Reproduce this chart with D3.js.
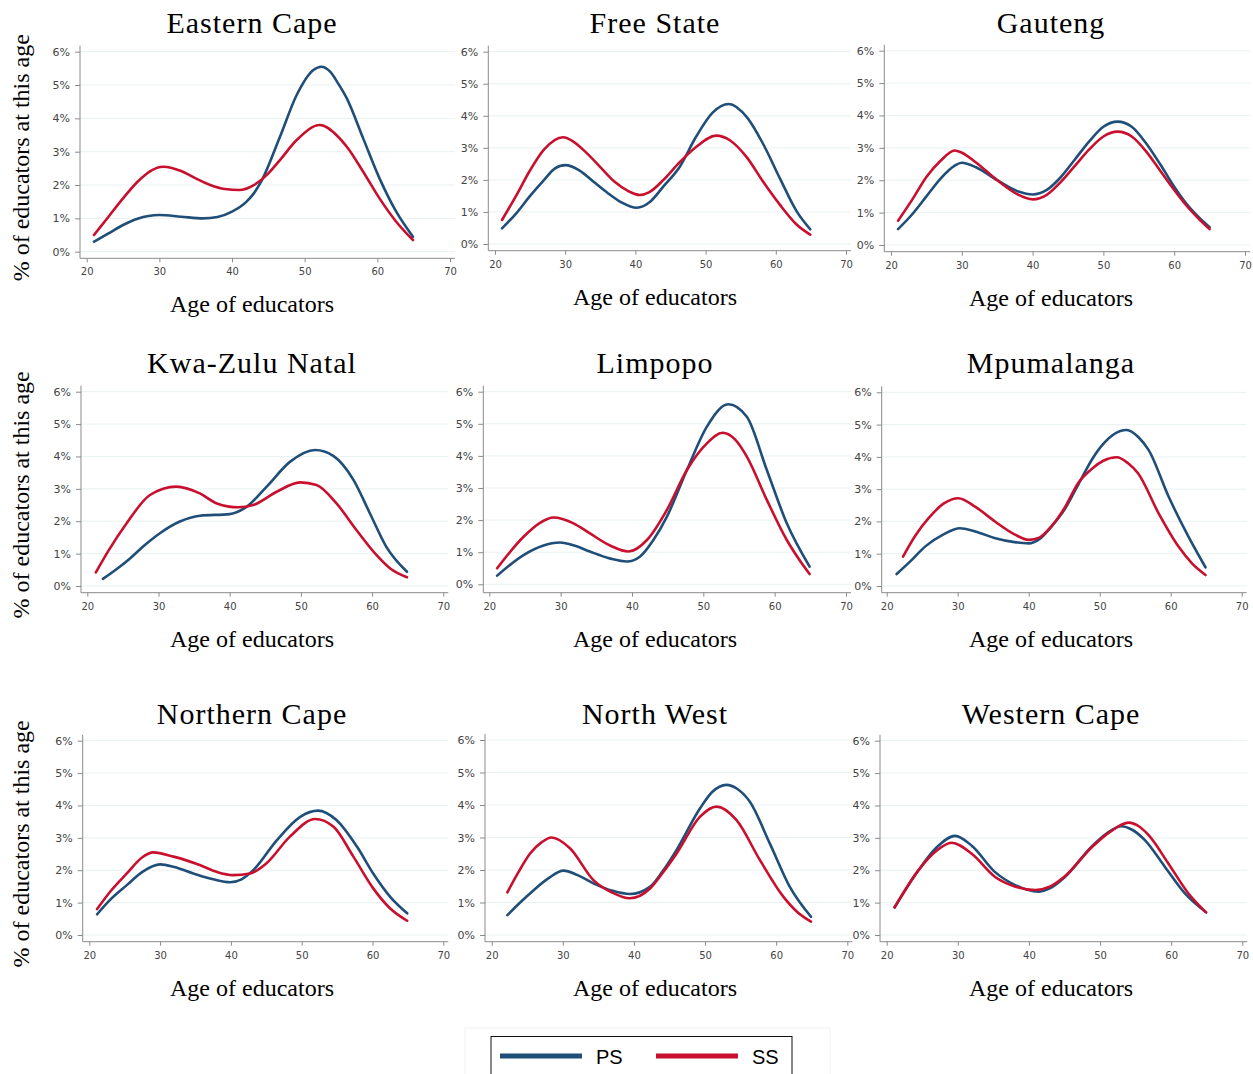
<!DOCTYPE html>
<html>
<head>
<meta charset="utf-8">
<script src="https://cdn.jsdelivr.net/npm/d3@7"></script>
<style>
  body { margin: 0; background: #fff; }
  svg { display: block; }
</style>
</head>
<body>
<svg width="1253" height="1074"></svg>
<script>
const provinces = ["Eastern Cape", "Free State", "Gauteng", "Kwa-Zulu Natal", "Limpopo",
  "Mpumalanga", "Northern Cape", "North West", "Western Cape"];
const seriesNames = ["PS", "SS"];
const xTicks = [20, 30, 40, 50, 60, 70];
const yTicks = [0, 1, 2, 3, 4, 5, 6];

// [age, % of educators], one list per province
const psPoints = [
  [[21,0.30],[23,0.55],[25,0.80],[27,0.99],[30,1.10],[33,1.05],[36,1.00],[38,1.04],[40,1.20],[42,1.50],[43,1.75],[44,2.1],[46.6,3.45],[48.9,4.7],[51.2,5.45],[52.3,5.55],[53.5,5.4],[54.6,5.05],[55.8,4.6],[58.05,3.4],[60.3,2.2],[62.6,1.2],[64.9,0.45]],
  [[21,0.49],[23,0.95],[25,1.5],[27,2.0],[28.5,2.35],[30,2.46],[32,2.3],[34,1.95],[36,1.6],[38,1.3],[40.2,1.13],[42,1.3],[44,1.8],[46.35,2.42],[48.6,3.33],[51,4.1],[53.3,4.37],[55.9,3.95],[58.2,3.12],[60.6,2.04],[63,1.01],[64.9,0.46]],
  [[21,0.49],[23,0.95],[25,1.5],[27,2.05],[29,2.45],[30,2.54],[32,2.4],[35,2.0],[38,1.65],[40,1.56],[42,1.7],[44,2.1],[46,2.65],[48,3.2],[50,3.65],[52,3.81],[54,3.65],[56,3.15],[58,2.5],[60,1.8],[62,1.2],[63.5,0.85],[65,0.55]],
  [[22.2,0.22],[24,0.5],[26,0.85],[28,1.25],[30.2,1.63],[33,1.99],[35.8,2.17],[40,2.22],[42.4,2.45],[45.2,3.07],[48.5,3.84],[52,4.2],[54.6,4.01],[57.4,3.27],[59.7,2.24],[62,1.21],[64.9,0.44]],
  [[21.1,0.27],[24.8,0.91],[27.5,1.2],[29.9,1.3],[32,1.2],[34.1,1.02],[37,0.8],[39.3,0.71],[41.1,0.86],[43,1.38],[44.9,2.11],[47.7,3.56],[50.5,4.91],[53.5,5.61],[56.1,5.22],[58.9,3.56],[61.7,1.9],[64.9,0.55]],
  [[21.4,0.37],[23.5,0.8],[25.4,1.22],[28,1.6],[30.3,1.79],[33,1.65],[35.3,1.48],[38,1.36],[40,1.32],[41.5,1.45],[43.2,1.84],[45,2.35],[47,3.15],[49,3.95],[50.5,4.4],[52,4.7],[53.8,4.83],[55.5,4.6],[56.9,4.21],[59.7,2.77],[62.5,1.53],[64.9,0.58]],
  [[21.1,0.64],[23,1.1],[25.3,1.54],[27.5,1.95],[30,2.18],[32,2.1],[34.7,1.9],[37.5,1.72],[39.9,1.63],[41.5,1.72],[43.2,2.01],[46.5,2.93],[49.8,3.65],[52.3,3.84],[54.9,3.55],[57.8,2.73],[60.1,1.9],[62.5,1.18],[64.9,0.67]],
  [[22.2,0.61],[24,1.0],[25.9,1.38],[28,1.75],[30.1,1.98],[32,1.85],[34.3,1.59],[37,1.36],[39.4,1.26],[42.3,1.49],[44,1.95],[46,2.62],[49.3,3.9],[51,4.4],[53,4.62],[54.5,4.5],[56.3,4.1],[59.1,2.82],[61.9,1.49],[64.9,0.56]],
  [[21.1,0.85],[24.5,2.01],[27,2.7],[29.6,3.06],[32,2.75],[35.2,1.95],[38,1.55],[41.3,1.34],[43,1.45],[45.1,1.8],[48.8,2.73],[51,3.15],[53,3.36],[54.5,3.25],[56.3,2.93],[59.1,2.11],[61.9,1.29],[64.9,0.7]]
];
const ssPoints = [
  [[21,0.5],[23,1.05],[25,1.6],[27,2.1],[29,2.45],[30.5,2.55],[33,2.42],[35,2.2],[37,2.0],[39,1.88],[41,1.85],[43,2.0],[45,2.35],[46.6,2.75],[48.9,3.35],[52.1,3.8],[54.6,3.45],[55.8,3.15],[58.05,2.4],[60.3,1.6],[62.6,0.9],[64.9,0.35]],
  [[21,0.75],[23,1.5],[25,2.3],[27,2.95],[29.7,3.33],[31,3.22],[33,2.85],[35,2.4],[37,1.95],[39,1.65],[40.6,1.53],[42,1.62],[44,2.0],[46.35,2.56],[48.6,3.02],[51.5,3.38],[53.5,3.23],[55.85,2.71],[58.2,1.94],[60.6,1.22],[63,0.6],[64.9,0.29]],
  [[21,0.75],[23,1.4],[25,2.1],[27,2.6],[29,2.92],[30,2.85],[32,2.55],[35,2.0],[38,1.55],[40,1.41],[42,1.55],[44,1.95],[46,2.45],[48,2.95],[50,3.35],[52,3.5],[54,3.35],[56,2.9],[58,2.3],[60,1.7],[62,1.15],[63.5,0.8],[65,0.49]],
  [[21.2,0.42],[23,1.1],[25.5,1.93],[28.8,2.81],[32.5,3.07],[35.8,2.86],[38.2,2.55],[41.2,2.43],[43.3,2.5],[46.6,2.91],[49.9,3.2],[52.2,3.12],[55,2.55],[57.8,1.73],[60.6,0.96],[62.5,0.55],[64.9,0.27]],
  [[21.1,0.5],[24.8,1.48],[27,1.9],[29,2.08],[31.8,1.9],[34,1.6],[37,1.2],[39.5,1.02],[42.1,1.38],[44.9,2.32],[47.7,3.56],[50.5,4.39],[52.7,4.72],[54.5,4.5],[56.1,3.98],[58.9,2.63],[61.7,1.38],[63.5,0.75],[64.9,0.32]],
  [[22.3,0.91],[24,1.55],[25.9,2.1],[28,2.55],[30.1,2.72],[32.5,2.45],[35.3,1.99],[38,1.6],[40,1.43],[41.5,1.5],[43.2,1.85],[45,2.4],[47,3.2],[49,3.65],[50.5,3.88],[52.4,3.99],[54,3.8],[55.4,3.49],[58.3,2.25],[61.1,1.22],[63,0.7],[64.9,0.34]],
  [[21.1,0.8],[23,1.35],[25.3,1.9],[27.5,2.4],[29,2.55],[31.9,2.42],[35.6,2.16],[38,1.95],[40.3,1.85],[42.7,1.9],[45,2.21],[48.3,3.03],[51.9,3.58],[54.5,3.34],[57.3,2.42],[60.1,1.44],[62.5,0.82],[64.9,0.44]],
  [[22.2,1.31],[23.8,1.95],[25.4,2.51],[27,2.85],[28.4,3.0],[31,2.67],[34.3,1.69],[37,1.3],[39.4,1.13],[42.3,1.44],[44,1.9],[46,2.51],[49.3,3.64],[51.6,3.95],[54.4,3.54],[57.7,2.31],[61,1.18],[63,0.7],[64.9,0.41]],
  [[21.1,0.85],[24.5,2.01],[27,2.6],[29.1,2.85],[32,2.5],[35.2,1.8],[38,1.5],[40.9,1.39],[43,1.5],[45.1,1.82],[48.8,2.7],[51.5,3.2],[54,3.47],[55.5,3.35],[56.8,3.09],[59.6,2.21],[62.4,1.29],[64.9,0.7]]
];

// where each small panel sits (pixels)
const frames = [
  {ax: 80,    x0: 86.7,  x1: 450,    y6: 51.7,  y0: 251.7, xa: 258.3, cx: 252},
  {ax: 488.3, x0: 495,   x1: 846,    y6: 51.7,  y0: 244,   xa: 250.7, cx: 655},
  {ax: 884.3, x0: 891,   x1: 1245,   y6: 50.7,  y0: 245,   xa: 251.7, cx: 1051},
  {ax: 81,    x0: 87.3,  x1: 443.3,  y6: 391.7, y0: 586,   xa: 592.7, cx: 252},
  {ax: 483.3, x0: 489.3, x1: 846,    y6: 391.7, y0: 584.3, xa: 592.7, cx: 655},
  {ax: 881.7, x0: 886.7, x1: 1241.7, y6: 392.3, y0: 586,   xa: 592.7, cx: 1051},
  {ax: 82.7,  x0: 89.3,  x1: 443.3,  y6: 740.7, y0: 935,   xa: 941.7, cx: 252},
  {ax: 485,   x0: 491.7, x1: 847.3,  y6: 740,   y0: 935,   xa: 941.7, cx: 655},
  {ax: 880,   x0: 886.7, x1: 1242.3, y6: 740.7, y0: 935,   xa: 941.7, cx: 1051}
];

const titleBase = [33, 373, 724];
const color = d3.scaleOrdinal().domain(seriesNames).range(["#1f4e79", "#c8102e"]);
const axisGrey = "#8a8a8a";

const svg = d3.select("svg");

provinces.forEach((name, i) => {
  const f = frames[i];
  const row = Math.floor(i / 3);
  const g = svg.append("g");

  const x = d3.scaleLinear().domain([20, 70]).range([f.x0, f.x1]);
  const y = d3.scaleLinear().domain([0, 6]).range([f.y0, f.y6]);

  // faint gridlines
  g.selectAll("line.grid")
    .data(yTicks)
    .enter().append("line")
    .attr("class", "grid")
    .attr("x1", f.ax).attr("x2", f.x1 + 5)
    .attr("y1", d => y(d)).attr("y2", d => y(d))
    .attr("stroke", "#e9f1f1")
    .attr("stroke-width", 1);

  // y axis
  const yAx = g.append("g")
    .attr("transform", `translate(${f.ax},0)`)
    .call(d3.axisLeft(y).tickValues(yTicks).tickFormat(d => d + "%").tickSize(5).tickPadding(5));
  yAx.select(".domain").remove();
  yAx.selectAll("line").attr("stroke", axisGrey);
  yAx.selectAll("text")
    .attr("fill", "#444")
    .style("font-family", "DejaVu Sans, sans-serif")
    .style("font-size", "11px");

  // x axis
  const xAx = g.append("g")
    .attr("transform", `translate(0,${f.xa})`)
    .call(d3.axisBottom(x).tickValues(xTicks).tickSize(4).tickPadding(6));
  xAx.select(".domain").remove();
  xAx.selectAll("line").attr("stroke", axisGrey);
  xAx.selectAll("text")
    .attr("fill", "#444")
    .style("font-family", "DejaVu Sans, sans-serif")
    .style("font-size", "10px");

  g.append("line")
    .attr("x1", f.ax).attr("x2", f.ax)
    .attr("y1", f.y6 - 6).attr("y2", f.xa)
    .attr("stroke", axisGrey);
  g.append("line")
    .attr("x1", f.ax).attr("x2", f.x1 + 5)
    .attr("y1", f.xa).attr("y2", f.xa)
    .attr("stroke", axisGrey);

  // curves
  const line = d3.line()
    .x(d => x(d[0]))
    .y(d => y(d[1]))
    .curve(d3.curveMonotoneX);

  [["PS", psPoints[i]], ["SS", ssPoints[i]]].forEach(([key, pts]) => {
    g.append("path")
      .datum(pts)
      .attr("d", line)
      .attr("fill", "none")
      .attr("stroke", color(key))
      .attr("stroke-width", 2.6)
      .attr("stroke-linecap", "round");
  });

  // titles and labels
  g.append("text")
    .attr("x", f.cx).attr("y", titleBase[row])
    .attr("text-anchor", "middle")
    .style("font-family", "Liberation Serif, serif")
    .style("font-size", "30px")
    .style("letter-spacing", "1px")
    .text(name);

  g.append("text")
    .attr("x", f.cx).attr("y", f.xa + 54)
    .attr("text-anchor", "middle")
    .style("font-family", "Liberation Serif, serif")
    .style("font-size", "24px")
    .text("Age of educators");

  if (i % 3 === 0) {
    const midY = (f.y6 + f.y0) / 2 + 6;
    g.append("text")
      .attr("transform", `translate(29,${midY}) rotate(-90)`)
      .attr("text-anchor", "middle")
      .style("font-family", "Liberation Serif, serif")
      .style("font-size", "24px")
      .text("% of educators at this age");
  }
});

// legend
const legend = svg.append("g");
legend.append("rect")
  .attr("x", 465).attr("y", 1028).attr("width", 365).attr("height", 60)
  .attr("fill", "none").attr("stroke", "#f2f2f2");
legend.append("rect")
  .attr("x", 491).attr("y", 1036.5).attr("width", 301).attr("height", 50)
  .attr("fill", "#fff").attr("stroke", "#111").attr("stroke-width", 1);

const legendX = d3.scaleOrdinal().domain(seriesNames).range([500, 656]);
seriesNames.forEach(key => {
  const lx = legendX(key);
  legend.append("line")
    .attr("x1", lx).attr("x2", lx + 82)
    .attr("y1", 1056).attr("y2", 1056)
    .attr("stroke", color(key))
    .attr("stroke-width", 5);
  legend.append("text")
    .attr("x", lx + 96).attr("y", 1064)
    .style("font-family", "Liberation Sans, Arial, sans-serif")
    .style("font-size", "20px")
    .text(key);
});
</script>
</body>
</html>
